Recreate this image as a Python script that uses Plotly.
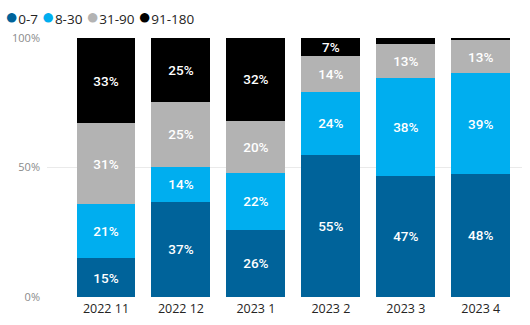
import plotly.graph_objects as go

categories = ["2022 11", "2022 12", "2023 1", "2023 2", "2023 3", "2023 4"]
series_names = ["0-7", "8-30", "31-90", "91-180"]
v_0_7 = [15, 36.7, 26, 55, 47, 48]
v_8_30 = [21, 13.5, 22, 24, 38, 39]
v_31_90 = [31, 25.1, 20, 14, 13, 13]
v_91_180 = [33, 24.7, 32, 7, 2.4, 0.8]
labels_0_7 = ["15%", "37%", "26%", "55%", "47%", "48%"]
labels_8_30 = ["21%", "14%", "22%", "24%", "38%", "39%"]
labels_31_90 = ["31%", "25%", "20%", "14%", "13%", "13%"]
labels_91_180 = ["33%", "25%", "32%", "7%", "", ""]
colors = ["#00639A", "#00AEEF", "#B3B3B3", "#000000"]

series = [v_0_7, v_8_30, v_31_90, v_91_180]
labels = [labels_0_7, labels_8_30, labels_31_90, labels_91_180]

fig = go.Figure()
for name, vals, lab, col in zip(series_names, series, labels, colors):
    fig.add_trace(go.Bar(
        x=categories, y=vals, name=name, marker=dict(color=col, line=dict(width=0)),
        text=lab, textposition="inside", insidetextanchor="middle", textangle=0,
        constraintext="none",
        textfont=dict(family="Roboto", size=13.5, color="white", weight=500),
        showlegend=False, hoverinfo="skip"))

legend_text = "".join(
    f"<span style='color:{c};font-size:22px'>●</span>{n}&nbsp;" for n, c in zip(series_names, colors)
)
fig.add_annotation(text=legend_text, xref="paper", yref="paper", x=-0.092, y=1.088,
                   xanchor="left", yanchor="middle", showarrow=False,
                   font=dict(family="Open Sans", size=13.5, color="#252423"))

fig.update_layout(
    width=530, height=325,
    barmode="stack", barnorm="percent", bargap=0.213,
    paper_bgcolor="white", plot_bgcolor="white",
    margin=dict(l=47, r=8, t=38, b=28),
    font=dict(family="Open Sans", color="#252423"),
    showlegend=False,
    xaxis=dict(range=[-0.787, 5.55], showgrid=False, showline=False, zeroline=False,
               tickfont=dict(size=12.5, color="#252423"), ticks="", ticklabelstandoff=2),
    yaxis=dict(range=[0, 100], tickvals=[0, 50, 100], ticktext=["0%", "50%", "100%"],
               showgrid=True, gridcolor="#EAEAEA", gridwidth=1, zeroline=False,
               tickfont=dict(size=11, color="#8a8a8a"), ticklabelstandoff=6),
)
fig.write_html("out.html")
